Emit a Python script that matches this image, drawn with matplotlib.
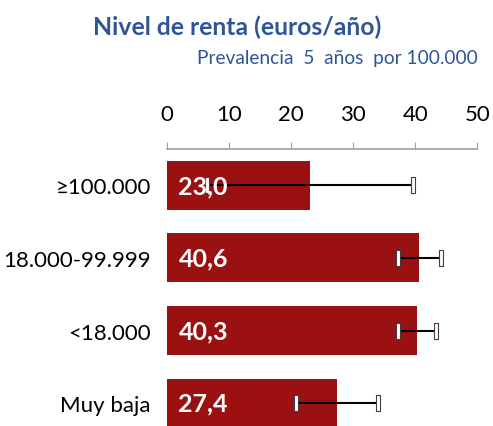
import matplotlib.pyplot as plt
import numpy as np

plt.rcParams['font.family'] = ['Lato', 'DejaVu Sans']

categorias = ['≥100.000', '18.000-99.999', '<18.000', 'Muy baja']
valores = [23.0, 40.6, 40.3, 27.4]
ic_inf = [6.35, 37.2, 37.2, 20.8]
ic_sup = [39.7, 44.1, 43.3, 34.0]
etiquetas = ['23,0', '40,6', '40,3', '27,4']
ticks = [0, 10, 20, 30, 40, 50]

rojo = '#9B1111'
azul = '#2F5597'

fig = plt.figure(figsize=(4.93, 4.27), dpi=100)
ax = fig.add_axes([167.3 / 493, 0, 310 / 493, 277 / 427])

y = np.arange(len(categorias))
vals = np.array(valores)
err = [vals - np.array(ic_inf), np.array(ic_sup) - vals]

ax.barh(y, vals, height=0.676, color=rojo, zorder=1)
ax.errorbar(vals, y, xerr=err, fmt='none', ecolor='black', elinewidth=1.5,
            capsize=0, zorder=2)

# caps as small hollow rectangles
cap = [(-0.25, -1), (0.25, -1), (0.25, 1), (-0.25, 1), (-0.25, -1)]
ax.plot(ic_inf + ic_sup, list(y) + list(y), linestyle='none', marker=cap,
        markersize=11, mfc='white', mec='#404040', mew=0.8, zorder=3)

for i, t in enumerate(etiquetas):
    ax.text(1.8, y[i], t, color='white', fontsize=18, fontweight='bold',
            va='center', ha='left', zorder=4)

ax.set_xlim(0, 50)
ax.set_ylim(3.317, -0.503)
ax.set_xticks(ticks)
ax.xaxis.tick_top()
ax.tick_params(axis='x', direction='out', length=5, color='#A0A0A0',
               labelsize=16, pad=13)
ax.set_yticks(y)
ax.set_yticklabels(categorias, fontsize=16)
ax.tick_params(axis='y', length=0, pad=12)

for s in ['left', 'right', 'bottom']:
    ax.spines[s].set_visible(False)
ax.spines['top'].set_color('#A0A0A0')
ax.spines['top'].set_linewidth(1.2)

fig.text(237.5 / 493, 1 - 35 / 427, 'Nivel de renta (euros/año)', color=azul,
         fontsize=17.8, fontweight='bold', ha='center', va='baseline')
fig.text(478 / 493, 1 - 64 / 427, 'Prevalencia  5  años  por 100.000', color=azul,
         fontsize=13.8, ha='right', va='baseline')

fig.savefig('out.png', dpi=100)
